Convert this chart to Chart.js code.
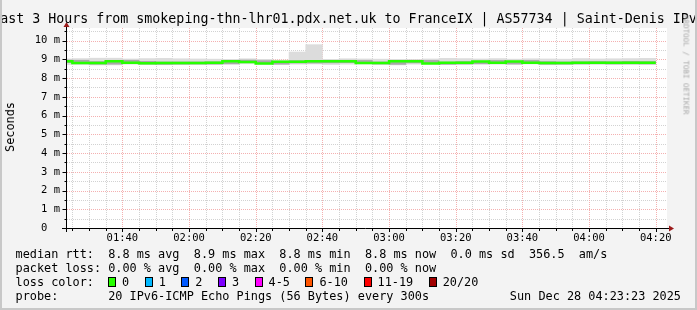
<!DOCTYPE html>
<html>
<head>
<meta charset="utf-8">
<script src="https://cdn.jsdelivr.net/npm/chart.js@4.4.1/dist/chart.umd.min.js"></script>
<style>
  html, body { margin: 0; padding: 0; }
  body {
    width: 697px; height: 310px; position: relative; overflow: hidden;
    background: #f3f3f3; color: #000;
    font-family: "DejaVu Sans Mono", monospace;
  }
  #frame {
    position: absolute; left: 0; top: 0; width: 697px; height: 310px; box-sizing: border-box;
    border-left: 2px solid #c8c8c8; border-right: 2px solid #c8c8c8; border-bottom: 2px solid #c8c8c8;
    pointer-events: none;
  }
  canvas { position: absolute; left: 0; top: 0; }
  .t { position: absolute; white-space: pre; }
  #title { left: -200px; width: 1097px; top: 11px; text-align: center; font-size: 13.3px; line-height: 16px; }
  #ytitle { left: 10px; top: 127px; font-size: 11.85px; line-height: 14px; transform: translate(-50%, -50%) rotate(-90deg); }
  #mark { left: 686px; top: 65px; font-size: 7.5px; line-height: 9px; color: #aaa; transform: translate(-50%, -50%) rotate(90deg); }
  .row { left: 15.5px; font-size: 11.85px; line-height: 14px; }
  #legend { position: absolute; left: 108px; top: 275px; height: 14px; display: flex; align-items: center; font-size: 11.85px; white-space: pre; }
  #legend .box { width: 8px; height: 10px; box-sizing: border-box; border: 1px solid #000; margin-right: 6px; }
  #legend .lbl { margin-right: 15.5px; line-height: 14px; }
  #date { right: 16px; top: 289px; font-size: 11.85px; line-height: 14px; }
</style>
</head>
<body>
<canvas id="chart" width="697" height="310"></canvas>
<div class="t" id="title">Last 3 Hours from smokeping-thn-lhr01.pdx.net.uk to FranceIX | AS57734 | Saint-Denis IPv6</div>
<div class="t" id="ytitle">Seconds</div>
<div class="t" id="mark">RRDTOOL / TOBI OETIKER</div>
<div class="t row" style="top:247px">median rtt:  8.8 ms avg  8.9 ms max  8.8 ms min  8.8 ms now  0.0 ms sd  356.5  am/s</div>
<div class="t row" style="top:261px">packet loss: 0.00 % avg  0.00 % max  0.00 % min  0.00 % now</div>
<div class="t row" style="top:275px">loss color:</div>
<div id="legend"></div>
<div class="t row" style="top:289px">probe:       20 IPv6-ICMP Echo Pings (56 Bytes) every 300s</div>
<div class="t" id="date">Sun Dec 28 04:23:23 2025</div>
<div id="frame"></div>
<script>
// time window of the graph
const rangeStart = "01:23:23";
const rangeEnd = "04:23:23";

// end time of every 5 minute step
const stepEnds = ["01:25", "01:30", "01:35", "01:40", "01:45", "01:50", "01:55", "02:00", "02:05",
  "02:10", "02:15", "02:20", "02:25", "02:30", "02:35", "02:40", "02:45", "02:50", "02:55",
  "03:00", "03:05", "03:10", "03:15", "03:20", "03:25", "03:30", "03:35", "03:40", "03:45",
  "03:50", "03:55", "04:00", "04:05", "04:10", "04:15", "04:20"];

// median rtt, ms
const median = [8.89, 8.89, 8.80, 8.80, 8.89, 8.81, 8.79, 8.80, 8.80, 8.80, 8.81, 8.90,
  8.86, 8.78, 8.87, 8.87, 8.89, 8.89, 8.89, 8.80, 8.80, 8.89, 8.89, 8.78,
  8.81, 8.81, 8.88, 8.81, 8.88, 8.81, 8.80, 8.80, 8.81, 8.81, 8.82, 8.81];

// smoke: outer range of the 20 pings
const smokeMax = [9.02, 9.04, 9.06, 9.06, 9.02, 9.04, 9.05, 9.03, 9.02, 9.01, 9.00, 9.03,
  9.00, 8.96, 9.39, 9.78, 9.00, 9.03, 9.02, 9.01, 9.00, 8.99, 9.02, 9.05,
  9.04, 9.02, 9.04, 9.01, 9.03, 9.02, 9.01, 9.04, 9.02, 9.03, 9.04, 9.05];
const smokeMin = [8.72, 8.72, 8.70, 8.70, 8.74, 8.72, 8.71, 8.72, 8.72, 8.73, 8.73, 8.76,
  8.74, 8.72, 8.74, 8.75, 8.72, 8.74, 8.75, 8.73, 8.70, 8.74, 8.76, 8.72,
  8.72, 8.74, 8.74, 8.72, 8.75, 8.71, 8.73, 8.74, 8.74, 8.73, 8.72, 8.73];
// smoke: inner (darker) part
const smokeHi = [8.96, 8.95, 8.88, 8.87, 8.95, 8.89, 8.86, 8.86, 8.86, 8.87, 8.88, 8.96,
  8.93, 8.85, 8.93, 8.94, 8.94, 8.95, 8.94, 8.86, 8.87, 8.95, 8.94, 8.85,
  8.88, 8.88, 8.94, 8.87, 8.94, 8.88, 8.86, 8.87, 8.88, 8.87, 8.89, 8.88];
const smokeLo = [8.82, 8.80, 8.74, 8.74, 8.82, 8.75, 8.73, 8.74, 8.75, 8.74, 8.76, 8.83,
  8.80, 8.74, 8.80, 8.80, 8.81, 8.82, 8.82, 8.75, 8.73, 8.81, 8.82, 8.73,
  8.75, 8.76, 8.81, 8.75, 8.81, 8.74, 8.74, 8.75, 8.76, 8.75, 8.76, 8.75];

const xTickLabels = ["01:40", "02:00", "02:20", "02:40", "03:00", "03:20", "03:40", "04:00", "04:20"];
const yTickValues = [0, 1, 2, 3, 4, 5, 6, 7, 8, 9, 10];
const yMax = 10.67;

const lossLabels = ["0", "1", "2", "3", "4-5", "6-10", "11-19", "20/20"];
const lossColors = ["#26ff00", "#00b8ff", "#0059ff", "#7e00ff", "#ff00ff", "#ff5500", "#ff0000", "#a10000"];

function toMin(s) {
  const p = s.split(":").map(Number);
  return p[0] * 60 + p[1] + (p[2] || 0) / 60;
}
function fmt(v) {
  const h = Math.floor(v / 60), m = Math.round(v - h * 60);
  return String(h).padStart(2, "0") + ":" + String(m).padStart(2, "0");
}

const tStart = toMin(rangeStart);
const tEnd = toMin(rangeEnd);

const legend = document.getElementById("legend");
lossLabels.forEach((l, i) => {
  const b = document.createElement("span");
  b.className = "box";
  b.style.background = lossColors[i];
  const t = document.createElement("span");
  t.className = "lbl";
  t.textContent = l;
  legend.appendChild(b);
  legend.appendChild(t);
});

const outerBars = stepEnds.map((t, i) => ({ x: toMin(t) - 2.5, y: [smokeMin[i], smokeMax[i]] }));
const innerBars = stepEnds.map((t, i) => ({ x: toMin(t) - 2.5, y: [smokeLo[i], smokeHi[i]] }));
const medianLine = stepEnds.map((t, i) => ({ x: toMin(t) - 5, y: median[i] }));
medianLine.push({ x: toMin(stepEnds[stepEnds.length - 1]), y: median[median.length - 1] });

const rrdLook = {
  id: "rrdLook",
  beforeDatasetsDraw(chart) {
    const { ctx, chartArea: a, scales: { x, y } } = chart;
    ctx.save();
    ctx.fillStyle = "#fff";
    ctx.fillRect(a.left, a.top, a.right - a.left, a.bottom - a.top);
    ctx.lineWidth = 1;
    ctx.setLineDash([1, 1]);
    const vline = (t) => {
      const px = Math.round(x.getPixelForValue(t)) + 0.5;
      ctx.beginPath(); ctx.moveTo(px, a.top); ctx.lineTo(px, a.bottom); ctx.stroke();
    };
    const hline = (v) => {
      const py = Math.round(y.getPixelForValue(v)) + 0.5;
      ctx.beginPath(); ctx.moveTo(a.left, py); ctx.lineTo(a.right, py); ctx.stroke();
    };
    ctx.strokeStyle = "#d2d2d2";
    for (let t = Math.ceil(tStart / 5) * 5; t <= tEnd; t += 5) if (t % 20 !== 0) vline(t);
    for (let v = 0.5; v < yMax; v += 1) hline(v);
    ctx.strokeStyle = "#f4b0b0";
    for (let t = Math.ceil(tStart / 20) * 20; t <= tEnd; t += 20) vline(t);
    for (let v = 1; v < yMax; v += 1) hline(v);
    ctx.restore();
  },
  afterDraw(chart) {
    const { ctx, chartArea: a, scales: { x, y } } = chart;
    ctx.save();
    ctx.strokeStyle = "#000";
    ctx.lineWidth = 1;
    const by = a.bottom + 0.5, lx = a.left - 0.5;
    // ticks
    ctx.beginPath();
    for (let t = Math.ceil(tStart / 5) * 5; t <= tEnd; t += 5) {
      const px = Math.round(x.getPixelForValue(t)) + 0.5;
      ctx.moveTo(px, a.bottom); ctx.lineTo(px, a.bottom + (t % 20 === 0 ? 4 : 3));
    }
    for (let v = 0.5; v < yMax; v += 0.5) {
      const py = Math.round(y.getPixelForValue(v)) + 0.5;
      ctx.moveTo(lx, py); ctx.lineTo(lx - (v % 1 === 0 ? 4 : 2), py);
    }
    ctx.stroke();
    // axes
    ctx.beginPath();
    ctx.moveTo(a.left - 5, by); ctx.lineTo(a.right + 2, by);
    ctx.moveTo(lx, a.bottom + 4); ctx.lineTo(lx, a.top - 1);
    ctx.stroke();
    ctx.fillStyle = "#9b1b1b";
    ctx.beginPath();
    ctx.moveTo(a.right + 2, by - 3); ctx.lineTo(a.right + 7, by); ctx.lineTo(a.right + 2, by + 3); ctx.closePath();
    ctx.fill();
    ctx.beginPath();
    ctx.moveTo(lx - 3, a.top - 1); ctx.lineTo(lx, a.top - 6); ctx.lineTo(lx + 3, a.top - 1); ctx.closePath();
    ctx.fill();
    ctx.restore();
  }
};

const tickFont = { family: "DejaVu Sans Mono", size: 10.5 };

new Chart(document.getElementById("chart"), {
  type: "bar",
  data: {
    datasets: [
      { type: "line", data: medianLine, stepped: "after", borderColor: "#26ff00", borderWidth: 2.5,
        pointRadius: 0, fill: false, clip: 0, order: 0 },
      { data: innerBars, backgroundColor: "#a8a8a8", grouped: false, barPercentage: 1,
        categoryPercentage: 1, borderWidth: 0, clip: 0, order: 1 },
      { data: outerBars, backgroundColor: "#dcdcdc", grouped: false, barPercentage: 1,
        categoryPercentage: 1, borderWidth: 0, clip: 0, order: 2 }
    ]
  },
  options: {
    responsive: false,
    animation: false,
    devicePixelRatio: 1,
    layout: { padding: { left: 0, right: 30, top: 28, bottom: 0 } },
    plugins: { legend: { display: false }, tooltip: { enabled: false } },
    scales: {
      x: {
        type: "linear", min: tStart, max: tEnd, offset: false,
        afterBuildTicks: (ax) => { ax.ticks = xTickLabels.map(l => ({ value: toMin(l) })); },
        afterFit: (s) => { s.height = 82; },
        ticks: { autoSkip: false, maxRotation: 0, padding: 4, color: "#000", font: tickFont,
          callback: (v) => fmt(v) },
        grid: { display: false, drawTicks: false, offset: false },
        border: { display: false }
      },
      y: {
        min: 0, max: yMax,
        afterBuildTicks: (ax) => { ax.ticks = yTickValues.map(v => ({ value: v })); },
        afterFit: (s) => { s.width = 67; },
        ticks: { padding: 7, color: "#000", font: tickFont,
          callback: (v) => (v === 0 ? "0  " : v + " m") },
        grid: { display: false, drawTicks: false },
        border: { display: false }
      }
    }
  },
  plugins: [rrdLook]
});
</script>
</body>
</html>
